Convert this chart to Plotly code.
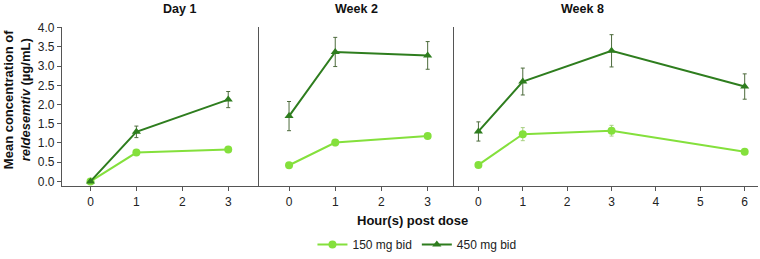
import plotly.graph_objects as go

panels = ["Day 1", "Week 2", "Week 8"]
hours_day1 = [0, 1, 3]
hours_week2 = [0, 1, 3]
hours_week8 = [0, 1, 3, 6]

low_day1 = [0.0, 0.75, 0.83]
low_day1_err = [0.0, 0.05, 0.05]
high_day1 = [0.0, 1.29, 2.13]
high_day1_err = [0.0, 0.15, 0.21]

low_week2 = [0.42, 1.01, 1.18]
low_week2_err = [0.0, 0.08, 0.06]
high_week2 = [1.70, 3.37, 3.28]
high_week2_err = [0.38, 0.38, 0.36]

low_week8 = [0.43, 1.23, 1.32, 0.77]
low_week8_err = [0.0, 0.17, 0.14, 0.04]
high_week8 = [1.30, 2.60, 3.40, 2.47]
high_week8_err = [0.25, 0.35, 0.42, 0.33]

series_names = ["150 mg bid", "450 mg bid"]
light = "#84e03c"
dark = "#2e7d1e"
err_light = "#a8d080"
err_dark = "#4d6b3c"
FONT = "Arial, Liberation Sans, sans-serif"

fig = go.Figure()
data = [
    (hours_day1, low_day1, low_day1_err, high_day1, high_day1_err),
    (hours_week2, low_week2, low_week2_err, high_week2, high_week2_err),
    (hours_week8, low_week8, low_week8_err, high_week8, high_week8_err),
]
for i, (h, lo, loe, hi, hie) in enumerate(data):
    ax = "" if i == 0 else str(i + 1)
    fig.add_trace(go.Scatter(
        x=h, y=lo, mode="lines+markers", name=series_names[0],
        line=dict(color=light, width=2),
        marker=dict(symbol="circle", size=8, color=light),
        error_y=dict(type="data", array=loe, color=err_light, thickness=1, width=2),
        xaxis="x" + ax, yaxis="y" + ax, showlegend=(i == 0), legendgroup="lo"))
    fig.add_trace(go.Scatter(
        x=h, y=hi, mode="lines+markers", name=series_names[1],
        line=dict(color=dark, width=2),
        marker=dict(symbol="triangle-up", size=8, color=dark),
        error_y=dict(type="data", array=hie, color=err_dark, thickness=1, width=2),
        xaxis="x" + ax, yaxis="y" + ax, showlegend=(i == 0), legendgroup="hi"))

W = 696.0
doms = [[0, 197 / W], [197 / W, 392 / W], [392 / W, 1.0]]
xranges = [[-0.62, 3.67], [-0.65, 3.57], [-0.55, 6.3]]
xticks = [[0, 1, 2, 3], [0, 1, 2, 3], [0, 1, 2, 3, 4, 5, 6]]

axis_common = dict(showline=True, linecolor="#555555", linewidth=1.3, showgrid=False,
                   zeroline=False, automargin=False,
                   tickfont=dict(family=FONT, size=12, color="#222"))
layout = dict(
    width=760, height=259,
    margin=dict(l=62, r=2, t=27, b=73, autoexpand=False),
    plot_bgcolor="white", paper_bgcolor="white",
    font=dict(family=FONT, color="#111"),
    showlegend=True,
    legend=dict(orientation="h", x=0.51, xanchor="center", yref="container",
                y=-0.03, yanchor="bottom",
                font=dict(family=FONT, size=12, color="#222"), itemwidth=30,
                bgcolor="rgba(0,0,0,0)"),
)
for i in range(3):
    ax = "" if i == 0 else str(i + 1)
    layout["xaxis" + ax] = dict(axis_common, domain=doms[i], range=xranges[i],
                                tickvals=xticks[i], ticks="outside", ticklen=4,
                                tickcolor="#555555", anchor="y" + ax)
    ya = dict(axis_common, range=[-0.12, 4.02], anchor="x" + ax, domain=[0, 1])
    if i == 0:
        ya.update(tickvals=[0, 0.5, 1, 1.5, 2, 2.5, 3, 3.5, 4], tickformat=".1f",
                  ticks="outside", ticklen=4, tickcolor="#555555")
    else:
        ya.update(showticklabels=False, ticks="", matches="y")
    layout["yaxis" + ax] = ya

fig.update_layout(**layout)

annotations = []
for i, name in enumerate(panels):
    annotations.append(dict(text="<b>%s</b>" % name, xref="paper", yref="paper",
                            x=(doms[i][0] + doms[i][1]) / 2, y=1, yanchor="bottom",
                            yshift=9, showarrow=False,
                            font=dict(family=FONT, size=12.5, color="#111")))
annotations.append(dict(text="<b>Hour(s) post dose</b>", xref="paper", yref="paper",
                        x=0.503, y=0, yanchor="top", yshift=-25, showarrow=False,
                        font=dict(family=FONT, size=13, color="#111")))
annotations.append(dict(text="<b>Mean concentration of<br><i>reldesemtiv</i> (µg/mL)</b>",
                        xref="paper", yref="paper", x=-45 / W, y=0.54, xanchor="center",
                        yanchor="middle", textangle=-90, showarrow=False,
                        font=dict(family=FONT, size=13, color="#111")))
fig.update_layout(annotations=annotations)

fig.write_html("out.html", config={"displayModeBar": False},
               post_script="document.body.style.margin='0';document.body.style.overflow='hidden';")
